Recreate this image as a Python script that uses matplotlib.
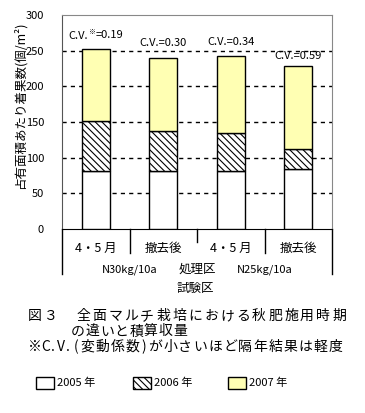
import matplotlib
matplotlib.use("Agg")
import matplotlib.pyplot as plt
from matplotlib.patches import Rectangle
import numpy as np

plt.rcParams["font.family"] = ["Noto Sans CJK JP", "DejaVu Sans"]
plt.rcParams["hatch.linewidth"] = 0.8

# data
groups = ["4・5 月", "撤去後", "4・5 月", "撤去後"]
y2005 = [82, 82, 81, 84]
y2006 = [70, 55, 53, 28]
y2007 = [101, 103, 108, 116]
cv = ["0.19", "0.30", "0.34", "0.59"]
treatments = ["N30kg/10a", "処理区", "N25kg/10a"]
years = ["2005 年", "2006 年", "2007 年"]
yticks = [0, 50, 100, 150, 200, 250, 300]
caption = ["図３　全面マルチ栽培における秋肥施用時期",
           "の違いと積算収量",
           "※C.V.(変動係数)が小さいほど隔年結果は軽度"]

W, H = 365, 413
fig = plt.figure(figsize=(W / 100, H / 100), dpi=100)
ax = fig.add_axes([0.170, 0.4455, 0.7396, 0.5182])

x = np.arange(len(groups))
w = 0.41
b1 = np.array(y2005)
b2 = b1 + np.array(y2006)
tot = b2 + np.array(y2007)

# dashed grid behind the bars
ax.hlines(yticks[1:-1], -0.5, 3.5, colors="black", linestyles=(0, (3, 3)),
          linewidth=1, zorder=2)

ax.bar(x, y2005, w, color="white", edgecolor="black", linewidth=1, zorder=3)
ax.bar(x, y2006, w, bottom=b1, color="white", edgecolor="black", hatch="\\\\\\\\\\",
       linewidth=1, zorder=3)
ax.bar(x, y2007, w, bottom=b2, color="#ffffb3", edgecolor="black", linewidth=1, zorder=3)

# C.V. labels above each bar
offs = [18, 21, 20, 15]
for i in range(len(x)):
    if i == 0:
        t = ax.text(x[i] - 0.4, tot[i] + offs[i], "C.V.", ha="left", va="center", fontsize=8)
        s = ax.annotate("※", xy=(1, 0.85), xycoords=t, ha="left", va="center", fontsize=5)
        ax.annotate("=" + cv[i], xy=(1, 0.15), xycoords=s, ha="left", va="center", fontsize=8)
    else:
        ax.text(x[i], tot[i] + offs[i], "C.V.=" + cv[i], ha="center", va="center", fontsize=8)

ax.set_xlim(-0.5, 3.5)
ax.set_ylim(0, 300)
ax.set_yticks(yticks)
ax.set_xticks([])
ax.tick_params(axis="y", length=0, pad=13, labelsize=8)

for s in ["top", "right"]:
    ax.spines[s].set_color("#888888")
ax.spines["left"].set_color("#555555")
ax.spines["bottom"].set_color("black")

# table-style category axis below the plot
tr = ax.get_xaxis_transform()
for xx, y0 in [(-0.5, -0.21), (0.5, -0.11), (1.5, -0.06), (2.5, -0.11), (3.5, -0.21)]:
    ax.plot([xx, xx], [0, y0], color="black", linewidth=1, transform=tr, clip_on=False)
for i, g in enumerate(groups):
    ax.text(x[i], -0.09, g, transform=tr, ha="center", va="center", fontsize=9)
ax.text(0.5, -0.19, treatments[0], transform=tr, ha="center", va="center", fontsize=8)
ax.text(1.5, -0.19, treatments[1], transform=tr, ha="center", va="center", fontsize=9)
ax.text(2.5, -0.19, treatments[2], transform=tr, ha="center", va="center", fontsize=8)
ax.text(1.47, -0.28, "試験区", transform=tr, ha="center", va="center", fontsize=9)

fig.text(0.055, 1 - 105 / H, "占有面積あたり着果数(個/m²)", rotation=90,
         ha="center", va="center", fontsize=9)


# caption in a fixed-pitch layout (half-width chars take half a cell)
def mono_line(s, x0, yc, pitch, size=10):
    px = x0
    for ch in s:
        adv = pitch / 2 if ord(ch) < 0x2000 else pitch
        if ch.strip() and ch != "　":
            fig.text((px + adv / 2) / W, 1 - yc / H, ch, ha="center", va="center",
                     fontsize=size)
        px += adv


mono_line(caption[0], 27, 316, 16.0)
mono_line(caption[1], 70, 331.5, 14.7)
mono_line(caption[2], 27, 347, 15.05)

# legend
fills = [("white", None), ("white", "\\\\\\\\\\"), ("#ffffb3", None)]
lx = [36, 133, 228]
for i, lab in enumerate(years):
    fc, h = fills[i]
    fig.add_artist(Rectangle((lx[i] / W, 1 - 389 / H), 18 / W, 12 / H,
                             transform=fig.transFigure, facecolor=fc, edgecolor="black",
                             hatch=h, linewidth=1))
    fig.text((lx[i] + 21) / W, 1 - 383 / H, lab, ha="left", va="center", fontsize=8)

fig.savefig("out.png", dpi=100)
